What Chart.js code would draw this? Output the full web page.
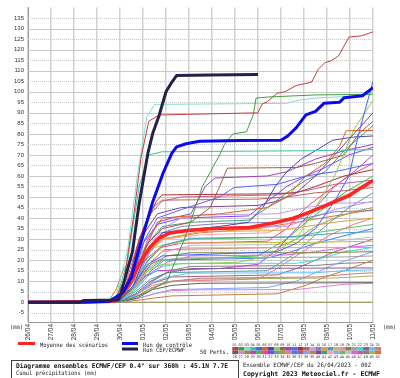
<!DOCTYPE html>
<html>
<head>
<meta charset="utf-8">
<script src="https://cdn.jsdelivr.net/npm/chart.js@4.4.0/dist/chart.umd.min.js"></script>
<style>
  html, body { margin: 0; padding: 0; background: #fff; }
  canvas { display: block; }
</style>
</head>
<body>
<canvas id="ens" width="400" height="378"></canvas>
<script>
// Axe des temps (heures depuis le 26/04 00Z) et étiquettes des jours
var dayHours = [0, 24, 48, 72, 96, 120, 144, 168, 192, 216, 240, 264, 288, 312, 336, 360];
var dayLabels = ["26/04", "27/04", "28/04", "29/04", "30/04", "01/05", "02/05", "03/05",
                 "04/05", "05/05", "06/05", "07/05", "08/05", "09/05", "10/05", "11/05"];
var yTicks = [-5, 0, 5, 10, 15, 20, 25, 30, 35, 40, 45, 50, 55, 60, 65, 70, 75, 80, 85, 90,
              95, 100, 105, 110, 115, 120, 125, 130, 135];

// Moyenne, run de contrôle, run CEP : [heure, cumul mm]
var moyenne = [[0,0],[84,0.3],[90,0.6],[96,2.8],[106,9],[116,18.3],[127,26],[137,30.6],[148,32.9],
  [165,34],[189,34.9],[231,35.5],[255,37.5],[276,39.8],[290,42.1],[311,46],[335,50.6],[345,53.7],[360,57.8]];
var controle = [[0,0],[60,0],[85,0.5],[99,4.5],[108,12],[115,24],[122,35],[130,47.5],[141,61.4],[150,70.7],
  [155,73.8],[165,75.3],[179,76.5],[221,76.9],[264,77],[271,79],[280,83],[290,89],[300,90.7],[309,94.6],
  [325,95],[330,97.2],[349,98.1],[360,102]];
var runCep = [[0,0],[54,0],[58,0.8],[94,1],[96,2.8],[109,24],[116,47],[125,70.6],[130,80],[137,89],
  [144,100],[150,104.5],[155,107.7],[190,108],[240,108.2]];

// 50 perturbations
var perts = [
  [[0,0],[90,0.5],[100,10],[110,40],[118,69],[126,86],[137,89],[240,90],[244,94],[250,95.4],[260,99.3],[268,100],[280,103],[296,104.6],[303,110.8],[310,113.9],[316,114.7],[324,117],[335,126],[348,126.6],[360,128.5]],
  [[0,0],[96,0.5],[110,2],[125,5],[145,10],[165,32],[182,55],[200,70],[205,75],[214,80],[228,81],[235,89],[238,97],[250,97.5],[300,98.5],[360,98.8]],
  [[0,0],[80,0.5],[92,3],[104,25],[114,60],[124,88],[132,94],[270,94.5],[282,96],[300,97],[340,98],[360,99.5]],
  [[0,0],[92,1],[104,20],[116,55],[126,70],[140,71.5],[300,72],[360,72.5]],
  [[0,0],[96,0.5],[110,8],[125,18],[140,22],[200,23],[260,24],[280,28],[300,35],[320,48],[335,60],[345,80],[360,105]],
  [[0,0],[96,0.5],[110,10],[125,30],[140,40],[200,42],[250,45],[270,50],[290,60],[310,66],[325,74],[332,81.5],[360,81.6]],
  [[0,0],[95,0.5],[110,8],[125,25],[140,33],[200,36],[230,38],[245,45],[258,55],[270,62],[285,68],[300,72],[318,77],[340,78.5],[360,79]],
  [[0,0],[96,0.5],[110,6],[125,15],[140,18],[220,19],[250,22],[280,30],[300,45],[320,60],[340,82],[360,96]],
  [[0,0],[96,0.5],[110,12],[125,28],[140,35],[170,38],[190,45],[200,55],[208,63.7],[280,64],[300,66],[330,70],[345,80],[360,86]],
  [[0,0],[96,0.5],[110,10],[122,25],[135,38],[150,40],[170,42],[185,55],[195,59],[250,60],[270,62],[300,68],[330,72],[360,75]],
  [[0,0],[95,0.5],[108,10],[122,30],[135,40],[160,44],[200,50],[215,54.5],[260,56],[290,60],[320,62],[360,66]],
  [[0,0],[94,0.5],[106,12],[116,30],[126,40],[134,48],[140,51],[250,51.5],[280,52],[300,55],[330,60],[360,63]],
  [[0,0],[95,0.5],[108,15],[120,35],[130,45],[140,48.5],[240,49],[270,50],[300,52],[330,53],[360,54.5]],
  [[0,0],[96,0.5],[110,10],[125,25],[140,35],[160,40],[180,41.5],[260,42],[290,45],[320,47],[360,47.5]],
  [[0,0],[96,0.5],[110,8],[125,22],[140,33],[160,36],[200,37.4],[260,38],[290,40],[320,43],[360,43.5]],
  [[0,0],[94,0.5],[108,10],[122,22],[140,30],[180,33.6],[260,34],[290,36],[320,38],[360,40]],
  [[0,0],[96,0.5],[110,8],[125,20],[140,27],[170,30.4],[270,31],[300,32],[330,33],[360,33.5]],
  [[0,0],[92,0.5],[104,8],[118,20],[132,26],[150,28],[300,28.5],[360,29]],
  [[0,0],[96,0.5],[110,6],[126,18],[140,24],[160,25.8],[360,26]],
  [[0,0],[96,0.5],[112,8],[128,18],[145,22],[170,23.5],[300,23.5],[360,24]],
  [[0,0],[94,0.5],[108,6],[122,15],[138,20],[160,21],[330,21.5],[360,22]],
  [[0,0],[96,0.5],[110,5],[124,12],[140,17],[160,18.4],[280,18.5],[300,20],[330,24],[360,26]],
  [[0,0],[96,0.3],[112,4],[128,10],[145,14],[170,16],[360,16.3]],
  [[0,0],[96,0.3],[112,3],[128,9],[145,12],[170,13.8],[300,14],[330,15],[360,15.4]],
  [[0,0],[98,0.3],[114,3],[130,7],[150,10],[180,11.4],[300,12],[340,13.5],[360,14]],
  [[0,0],[98,0.3],[114,2],[130,6],[150,8],[180,9],[360,9.3]],
  [[0,0],[100,0.2],[116,2],[132,4],[150,5.5],[180,5.9],[280,6],[300,7],[330,8.5],[360,9]],
  [[0,0],[360,0]],
  [[0,0],[95,0.5],[108,5],[120,12],[135,15],[200,16],[240,18],[260,25],[280,35],[300,45],[320,55],[340,62],[360,70]],
  [[0,0],[96,0.5],[110,6],[125,15],[140,20],[240,22],[270,30],[290,38],[310,45],[330,52],[360,60]],
  [[0,0],[94,0.5],[108,10],[122,20],[138,26],[160,28],[250,29],[270,35],[290,45],[310,52],[335,60],[360,66]],
  [[0,0],[95,0.5],[108,12],[120,28],[135,37],[160,40],[230,41],[250,48],[270,55],[290,60],[310,64],[335,70],[360,73.6]],
  [[0,0],[97,0.3],[112,5],[128,11],[145,14],[250,15],[275,22],[295,30],[315,38],[335,45],[360,52]],
  [[0,0],[96,0.5],[110,8],[126,18],[142,25],[260,26],[280,30],[300,36],[320,40],[340,43],[360,45]],
  [[0,0],[98,0.3],[114,4],[130,8],[150,10],[240,11],[260,16],[280,22],[300,28],[320,33],[340,37],[360,40]],
  [[0,0],[96,0.5],[110,6],[126,14],[142,20],[250,21],[275,24],[300,28],[325,31],[360,35]],
  [[0,0],[98,0.3],[114,4],[130,9],[150,12],[260,13],[280,16],[300,20],[320,24],[340,27],[360,30]],
  [[0,0],[100,0.2],[116,2],[132,4],[150,6],[250,7],[280,10],[300,14],[320,18],[340,21],[360,24]],
  [[0,0],[100,0.2],[116,1],[132,2],[150,3],[260,4],[290,8],[310,12],[330,15],[360,20]],
  [[0,0],[95,0.5],[108,15],[120,32],[135,42],[160,45],[240,46],[260,48],[280,52],[300,60],[320,70],[340,80],[360,90]],
  [[0,0],[96,0.5],[110,12],[125,28],[140,36],[170,38],[230,39],[250,45],[270,52],[290,58],[310,62],[330,72],[360,84]],
  [[0,0],[96,0.5],[110,10],[126,24],[142,30],[180,32],[250,33],[275,38],[300,44],[325,50],[360,56]],
  [[0,0],[94,0.5],[108,12],[122,26],[138,33],[170,35],[270,36],[295,40],[320,44],[360,48]],
  [[0,0],[96,0.5],[110,8],[126,20],[142,27],[170,30],[280,31],[300,33],[330,35],[360,37]],
  [[0,0],[96,0.5],[112,8],[128,18],[145,24],[170,27],[290,27.5],[320,29],[360,31]],
  [[0,0],[96,0.5],[112,6],[128,14],[145,19],[170,22],[270,22.5],[300,24],[330,26],[360,27]],
  [[0,0],[92,0.5],[104,12],[116,30],[128,42],[140,48],[160,50],[260,51],[290,53],[320,56],[360,58]],
  [[0,0],[98,0.3],[114,4],[130,10],[148,15],[170,17],[300,17.5],[330,18.5],[360,19]],
  [[0,0],[98,0.3],[114,3],[130,7],[148,9.5],[175,11],[320,11.5],[360,12.5]],
  [[0,0],[84,0.5],[92,6],[100,16],[108,20],[120,24],[140,30],[180,33],[240,35],[280,38],[320,41],[360,44]]
];
var pertColors = ['#c04040','#40a040','#80e0d0','#40c0a0','#4060ff','#e06020','#4848b0','#90d050','#a06040','#a040c0',
  '#6060ff','#b03030','#c06060','#c0a0e0','#8080c0','#e0a040','#40a0c0','#c0c040','#ff80c0','#808040',
  '#a0a0a0','#30e0e0','#8060a0','#60c0ff','#c08080','#606060','#e080e0','#909040','#c040c0','#40c040',
  '#ff4080','#8040ff','#60a0a0','#a0a040','#e08080','#4080ff','#a06080','#80a0ff','#c08040','#8040a0',
  '#40a080','#ffa0a0','#a0a0ff','#60c060','#c0c0c0','#e060e0','#c06090','#808080','#b0b060','#e07030'];

var datasets = [
  { data: runCep, borderColor: '#23234a', borderWidth: 3, order: 0 },
  { data: controle, borderColor: '#0a0af0', borderWidth: 3, order: 0 },
  { data: moyenne, borderColor: '#ff2424', borderWidth: 3.5, order: 0 }
];
perts.forEach(function(p, i) {
  datasets.push({ data: p, borderColor: pertColors[i], borderWidth: 1, order: 1 });
});

// Grille horizontale (pleine aux dizaines, pointillée aux cinq)
var grilleY = {
  id: 'grilleY',
  beforeDatasetsDraw: function(chart) {
    var c = chart.ctx, a = chart.chartArea, y = chart.scales.y;
    c.save();
    c.strokeStyle = '#c8c8c8';
    c.lineWidth = 1;
    yTicks.forEach(function(v) {
      var py = Math.round(y.getPixelForValue(v)) + 0.5;
      c.setLineDash(v % 10 === 0 ? [] : [1, 1]);
      c.beginPath(); c.moveTo(a.left, py); c.lineTo(a.right, py); c.stroke();
    });
    c.restore();
  }
};

function txt(c, s, x, y, font, w, color) {
  c.font = font;
  c.fillStyle = color || '#222';
  c.fillText(s, x, y, w);
}

// Légende et cartouche du bas
var cartouche = {
  id: 'cartouche',
  afterDraw: function(chart) {
    var c = chart.ctx;
    c.save();
    c.textBaseline = 'alphabetic';
    txt(c, '(mm)', 10, 329, '6px "DejaVu Sans Mono"', 13);
    txt(c, '(mm)', 383, 329, '6px "DejaVu Sans Mono"', 13);

    c.fillStyle = '#ff2424'; c.fillRect(18, 342, 17, 3);
    txt(c, 'Moyenne des scénarios', 40, 346.5, '6px "DejaVu Sans Mono"', 68);
    c.fillStyle = '#0a0af0'; c.fillRect(122, 342, 16, 3);
    txt(c, 'Run de contrôle', 143, 346.5, '6px "DejaVu Sans Mono"', 49);
    c.fillStyle = '#23234a'; c.fillRect(122, 347.5, 16, 3);
    txt(c, 'Run CEP/ECMWF', 143, 351.5, '6px "DejaVu Sans Mono"', 42);
    txt(c, '50 Perts.', 200, 354, '6px "DejaVu Sans Mono"', 29);

    var bw = 5.95, x0 = 232.3;
    for (var i = 0; i < 25; i++) {
      var bx = x0 + i * bw;
      c.fillStyle = pertColors[i]; c.fillRect(bx, 347, bw, 3.6);
      c.fillStyle = pertColors[i + 25]; c.fillRect(bx, 350.6, bw, 3.6);
      var n1 = ('0' + (i + 1)).slice(-2), n2 = String(i + 26);
      txt(c, n1, bx + 0.3, 346.3, '3.6px "DejaVu Sans Mono"', 5.4, '#333');
      txt(c, n2, bx + 0.3, 358, '3.6px "DejaVu Sans Mono"', 5.4, '#333');
    }

    c.strokeStyle = '#404040'; c.lineWidth = 1;
    c.strokeRect(11.5, 360.5, 227, 20);
    txt(c, 'Diagramme ensembles ECMWF/CEP 0.4° sur 360h : 45.1N 7.7E', 16, 367.5, 'bold 6.5px "DejaVu Sans Mono"', 212, '#111');
    txt(c, 'Cumul précipitations (mm)', 16, 374.5, '6px "DejaVu Sans Mono"', 81, '#222');
    txt(c, 'Ensemble ECMWF/CEP du 26/04/2023 - 00Z', 243, 366.5, '6px "DejaVu Sans Mono"', 128, '#222');
    txt(c, 'Copyright 2023 Meteociel.fr - ECMWF', 243, 375.5, 'bold 6.5px "DejaVu Sans Mono"', 137, '#111');
    c.restore();
  }
};

var ctx = document.getElementById('ens').getContext('2d');
var ensChart = new Chart(ctx, {
  type: 'line',
  data: { datasets: datasets },
  options: {
    responsive: false,
    animation: false,
    events: [],
    layout: { padding: { top: 0, right: 27, bottom: 33, left: 0 } },
    elements: { point: { radius: 0 }, line: { tension: 0, borderJoinStyle: 'round' } },
    plugins: { legend: { display: false }, tooltip: { enabled: false } },
    scales: {
      x: {
        type: 'linear', min: 0, max: 360,
        afterBuildTicks: function(s) { s.ticks = dayHours.map(function(v) { return { value: v }; }); },
        afterFit: function(s) { s.height = 23; },
        ticks: {
          autoSkip: false, minRotation: 90, maxRotation: 90, padding: 2,
          color: '#333', font: { family: 'Liberation Sans', size: 6.5 },
          callback: function(v, i) { return dayLabels[i]; }
        },
        grid: { color: '#d2d2d2', lineWidth: 1.5, drawTicks: false },
        border: { color: '#9a9a9a' }
      },
      y: {
        min: -9.4, max: 140,
        afterBuildTicks: function(s) { s.ticks = yTicks.map(function(v) { return { value: v }; }); },
        afterFit: function(s) { s.width = 28; },
        ticks: { padding: 4, color: '#333', font: { family: 'Liberation Sans', size: 6 } },
        grid: { display: false, drawTicks: false },
        border: { color: '#9a9a9a' }
      }
    }
  },
  plugins: [grilleY, cartouche]
});
</script>
</body>
</html>
